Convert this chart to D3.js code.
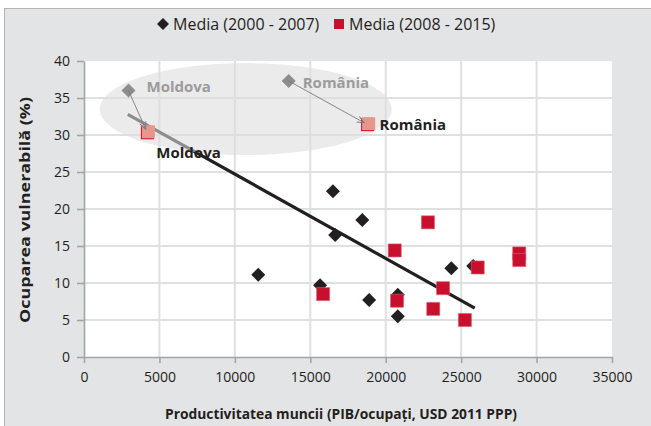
<!DOCTYPE html>
<html>
<head>
<meta charset="utf-8">
<script src="https://cdn.jsdelivr.net/npm/d3@7"></script>
<style>
  body { margin: 0; background: #fff; }
  svg { display: block; font-family: "Open Sans", sans-serif; }
</style>
</head>
<body>
<script>
// Series names (legend)
var seriesNames = ["Media (2000 - 2007)", "Media (2008 - 2015)"];

// Media 2000-2007 (other countries)
var earlyX = [16500, 18450, 16650, 11550, 15650, 18900, 20800, 20800, 24350, 25800];
var earlyY = [22.4, 18.5, 16.5, 11.1, 9.7, 7.7, 8.4, 5.5, 12.0, 12.3];

// Media 2008-2015 (other countries)
var lateX = [22800, 20600, 15850, 20750, 23150, 23800, 26100, 25250, 28850, 28850];
var lateY = [18.2, 14.4, 8.5, 7.6, 6.5, 9.3, 12.1, 5.0, 14.0, 13.1];

// Highlighted countries
var highlightNames = ["Moldova", "România"];
var highlightEarlyX = [2950, 13570];
var highlightEarlyY = [36.0, 37.3];
var highlightLateX = [4200, 18800];
var highlightLateY = [30.3, 31.4];

// Linear trend end points
var trendX = [2900, 25900];
var trendY = [32.8, 6.6];

// Ticks
var xTicks = [0, 5000, 10000, 15000, 20000, 25000, 30000, 35000];
var yTicks = [0, 5, 10, 15, 20, 25, 30, 35, 40];

var width = 651, height = 426;
var plot = { left: 84, right: 612, top: 61, bottom: 357 };

var svg = d3.select("body").append("svg")
    .attr("width", width)
    .attr("height", height);

// Outer frame
svg.append("rect")
    .attr("x", 4.5).attr("y", 8.5)
    .attr("width", width).attr("height", height)
    .attr("fill", "#e3e4e6")
    .attr("stroke", "#b4b5b7");

var x = d3.scaleLinear().domain([0, 35000]).range([plot.left, plot.right]);
var y = d3.scaleLinear().domain([0, 40]).range([plot.bottom, plot.top]);

// Plot area
svg.append("rect")
    .attr("x", plot.left).attr("y", plot.top)
    .attr("width", plot.right - plot.left)
    .attr("height", plot.bottom - plot.top)
    .attr("fill", "#fff");

// Gridlines
var grid = svg.append("g").attr("stroke", "#dfe0e2").attr("stroke-width", 2);
grid.selectAll(".hg")
    .data(yTicks.filter(function (d) { return d > 0 && d < 40; }))
    .enter().append("line")
    .attr("x1", plot.left).attr("x2", plot.right)
    .attr("y1", function (d) { return y(d); })
    .attr("y2", function (d) { return y(d); });
grid.selectAll(".vg")
    .data(xTicks.filter(function (d) { return d > 0 && d < 35000; }))
    .enter().append("line")
    .attr("y1", plot.top).attr("y2", plot.bottom)
    .attr("x1", function (d) { return x(d); })
    .attr("x2", function (d) { return x(d); });

// Axes
var yAxis = svg.append("g")
    .attr("transform", "translate(" + plot.left + ",0)")
    .call(d3.axisLeft(y).tickValues(yTicks).tickSize(7).tickSizeOuter(0).tickPadding(7));
var xAxis = svg.append("g")
    .attr("transform", "translate(0," + plot.bottom + ")")
    .call(d3.axisBottom(x).tickValues(xTicks).tickSize(6).tickSizeOuter(0).tickPadding(9)
        .tickFormat(d3.format("d")));
[xAxis, yAxis].forEach(function (ax) {
    ax.select(".domain").attr("stroke", "#a3a4a6").attr("stroke-width", 1.6);
    ax.selectAll(".tick line").attr("stroke", "#a3a4a6").attr("stroke-width", 1.6);
    ax.selectAll(".tick text")
        .attr("fill", "#231f20")
        .style("font-size", "14px")
        .style("font-family", "'Open Sans', sans-serif");
});

// Trend line
svg.append("line")
    .attr("x1", x(trendX[0])).attr("y1", y(trendY[0]))
    .attr("x2", x(trendX[1])).attr("y2", y(trendY[1]))
    .attr("stroke", "#231f20")
    .attr("stroke-width", 3.2);

var diamond = d3.symbol().type(d3.symbolSquare).size(98);
var square = d3.symbol().type(d3.symbolSquare).size(170);

// 2000-2007 markers (highlighted ones get toned down by the overlay below)
var earlyPts = earlyX.map(function (v, i) { return [v, earlyY[i]]; })
    .concat(highlightEarlyX.map(function (v, i) { return [v, highlightEarlyY[i]]; }));
svg.append("g").selectAll("path")
    .data(earlyPts)
    .enter().append("path")
    .attr("d", diamond)
    .attr("transform", function (d) { return "translate(" + x(d[0]) + "," + y(d[1]) + ") rotate(45)"; })
    .attr("fill", "#231f20");

// 2008-2015 markers
var latePts = lateX.map(function (v, i) { return [v, lateY[i]]; });
svg.append("g").selectAll("path")
    .data(latePts)
    .enter().append("path")
    .attr("d", square)
    .attr("transform", function (d) { return "translate(" + x(d[0]) + "," + y(d[1]) + ")"; })
    .attr("fill", "#c8102e")
    .attr("stroke", "#e05a6a")
    .attr("stroke-width", 0.6);

// Highlight ellipse overlay
svg.append("ellipse")
    .attr("cx", x(10720)).attr("cy", y(33.5))
    .attr("rx", 146).attr("ry", 46)
    .attr("fill", "rgb(220,221,223)")
    .attr("fill-opacity", 0.58);

// Highlighted 2008-2015 markers
var hiLate = highlightLateX.map(function (v, i) { return [v, highlightLateY[i]]; });
svg.append("g").selectAll("path")
    .data(hiLate)
    .enter().append("path")
    .attr("d", square)
    .attr("transform", function (d) { return "translate(" + x(d[0]) + "," + y(d[1]) + ")"; })
    .attr("fill", "#c8102e");
svg.append("g").selectAll("path")
    .data(hiLate)
    .enter().append("path")
    .attr("d", square)
    .attr("transform", function (d) { return "translate(" + (x(d[0]) + 1) + "," + (y(d[1]) - 1) + ")"; })
    .attr("fill", "#e8968c");

// Arrows from 2000-2007 to 2008-2015
svg.append("defs").append("marker")
    .attr("id", "arrow")
    .attr("viewBox", "0 0 10 10")
    .attr("refX", 9).attr("refY", 5)
    .attr("markerWidth", 8).attr("markerHeight", 8)
    .attr("markerUnits", "userSpaceOnUse")
    .attr("orient", "auto")
    .append("path")
    .attr("d", "M0,1 L9,5 L0,9")
    .attr("fill", "none")
    .attr("stroke", "#7a7a7a")
    .attr("stroke-width", 1.2);

highlightNames.forEach(function (name, i) {
    var x1 = x(highlightEarlyX[i]), y1 = y(highlightEarlyY[i]);
    var x2 = x(highlightLateX[i]), y2 = y(highlightLateY[i]);
    var len = Math.hypot(x2 - x1, y2 - y1);
    var k = (len - 4) / len;
    svg.append("line")
        .attr("x1", x1).attr("y1", y1)
        .attr("x2", x1 + (x2 - x1) * k).attr("y2", y1 + (y2 - y1) * k)
        .attr("stroke", "#7a7a7a")
        .attr("stroke-width", 0.9)
        .attr("marker-end", "url(#arrow)");
});

// Country labels
var earlyLabelOffset = [[18, 1], [14, 7]];
var lateLabelOffset = [[9, 25], [12, 5]];
highlightNames.forEach(function (name, i) {
    svg.append("text")
        .attr("x", x(highlightEarlyX[i]) + earlyLabelOffset[i][0])
        .attr("y", y(highlightEarlyY[i]) + earlyLabelOffset[i][1])
        .attr("fill", "#9b9b9b")
        .style("font-size", "15px")
        .style("font-weight", "bold")
        .text(name);
    svg.append("text")
        .attr("x", x(highlightLateX[i]) + lateLabelOffset[i][0])
        .attr("y", y(highlightLateY[i]) + lateLabelOffset[i][1])
        .attr("fill", "#231f20")
        .style("font-size", "15px")
        .style("font-weight", "bold")
        .text(name);
});

// Legend
var legend = svg.append("g").attr("transform", "translate(163,24)");
legend.append("path")
    .attr("d", d3.symbol().type(d3.symbolSquare).size(72))
    .attr("transform", "rotate(45)")
    .attr("fill", "#231f20");
legend.append("text")
    .attr("x", 10).attr("y", 5.5)
    .attr("fill", "#231f20")
    .style("font-size", "16px")
    .text(seriesNames[0]);
legend.append("path")
    .attr("d", d3.symbol().type(d3.symbolSquare).size(100))
    .attr("transform", "translate(176,0)")
    .attr("fill", "#c8102e");
legend.append("text")
    .attr("x", 186).attr("y", 5.5)
    .attr("fill", "#231f20")
    .style("font-size", "16px")
    .text(seriesNames[1]);

// Axis titles
svg.append("text")
    .attr("x", 341).attr("y", 419)
    .attr("text-anchor", "middle")
    .attr("fill", "#231f20")
    .style("font-size", "14px")
    .style("font-weight", "bold")
    .attr("textLength", 352)
    .attr("lengthAdjust", "spacingAndGlyphs")
    .text("Productivitatea muncii (PIB/ocupați, USD 2011 PPP)");

svg.append("text")
    .attr("transform", "translate(30,210) rotate(-90)")
    .attr("text-anchor", "middle")
    .attr("fill", "#231f20")
    .style("font-size", "14px")
    .style("font-weight", "bold")
    .attr("textLength", 226)
    .attr("lengthAdjust", "spacingAndGlyphs")
    .text("Ocuparea vulnerabilă (%)");
</script>
</body>
</html>
